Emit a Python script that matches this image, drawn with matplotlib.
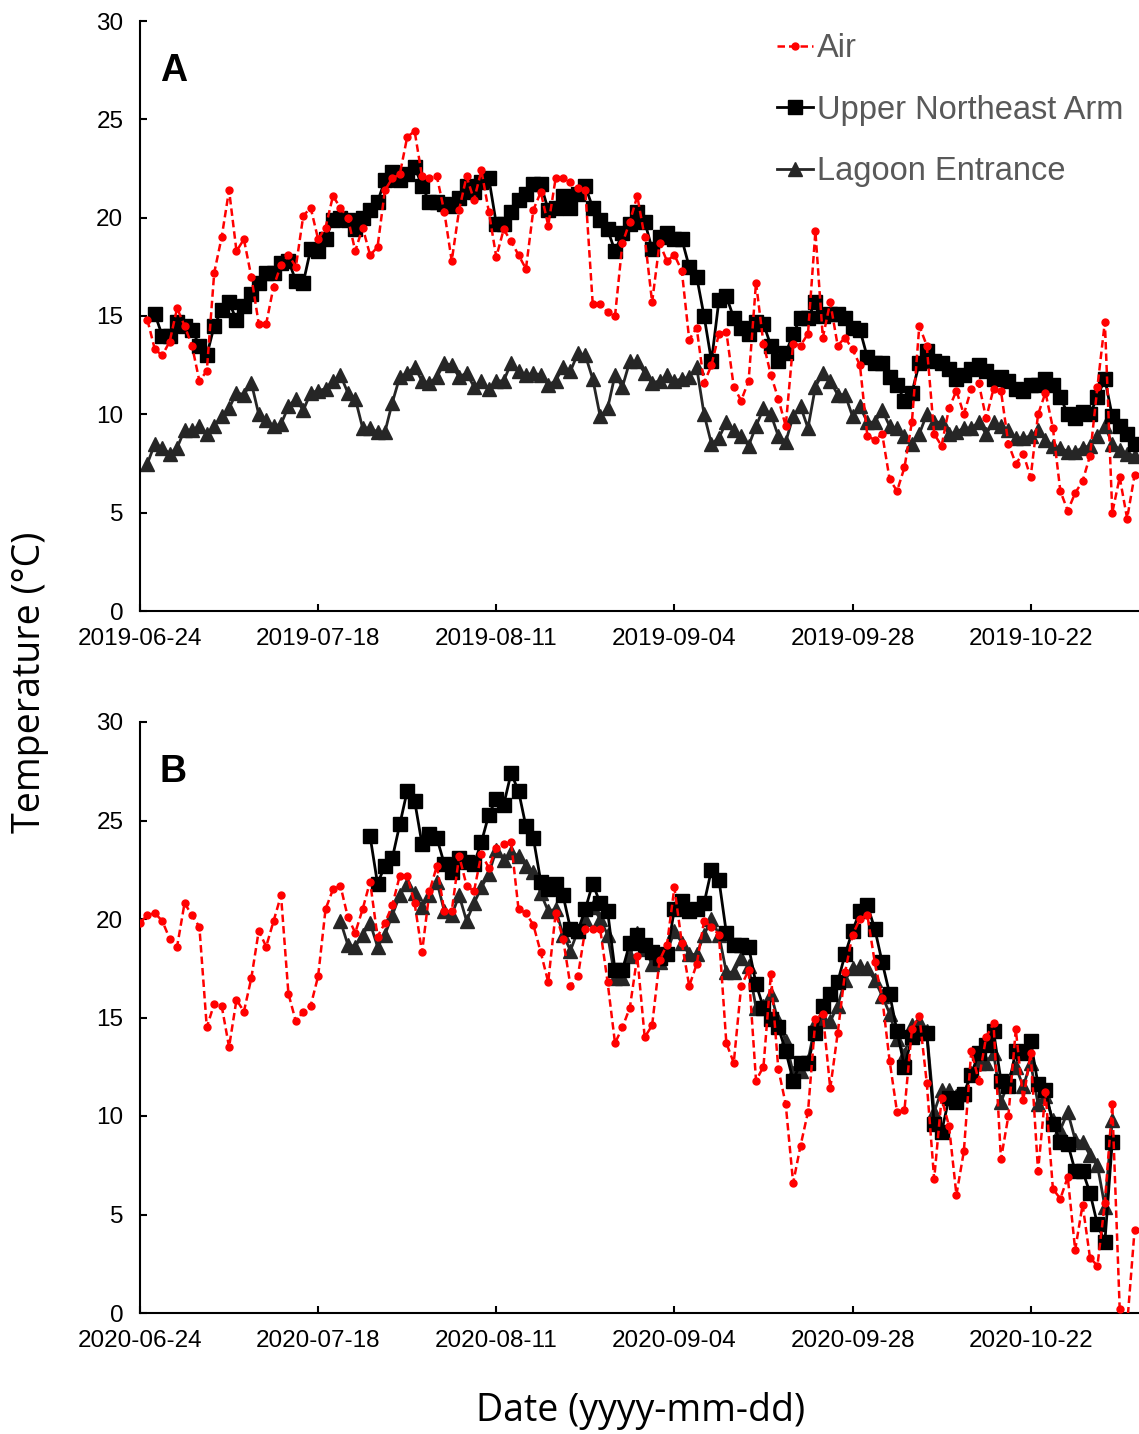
import matplotlib
matplotlib.use('Agg')
import matplotlib.pyplot as plt
import matplotlib.dates as mdates
import pandas as pd

# --- data (daily means) ---
start_a = pd.Timestamp('2019-06-24')
start_b = pd.Timestamp('2020-06-24')

air_a = [14.8, 13.3, 13.0, 13.7, 15.4, 14.5, 13.5, 11.7, 12.2, 17.2,
         19.0, 21.4, 18.3, 18.9, 17.0, 14.6, 14.6, 16.5, 17.6, 18.1,
         17.5, 20.1, 20.5, 18.9, 19.5, 21.1, 20.5, 20.0, 18.3, 19.5,
         18.1, 18.5, 21.4, 22.0, 22.2, 24.1, 24.4, 22.1, 22.0, 22.1,
         20.3, 17.8, 20.4, 22.1, 20.9, 22.4, 20.3, 18.0, 19.4, 18.8,
         18.1, 17.4, 20.4, 21.3, 19.6, 22.0, 22.0, 21.8, 21.5, 21.4,
         15.6, 15.6, 15.2, 15.0, 18.7, 19.8, 21.1, 19.0, 15.7, 18.7,
         17.8, 18.1, 17.3, 13.8, 14.4, 11.6, 12.5, 14.1, 14.2, 11.4,
         10.7, 11.7, 16.7, 13.6, 12.0, 10.8, 9.4, 13.6, 13.5, 14.1,
         19.3, 13.9, 15.7, 13.5, 13.9, 13.3, 12.5, 8.9, 8.7, 9.0,
         6.7, 6.1, 7.3, 9.6, 14.5, 13.5, 9.0, 8.4, 10.3, 11.2,
         10.0, 11.3, 11.6, 9.8, 11.3, 11.2, 8.5, 7.5, 8.0, 6.8,
         10.0, 11.1, 9.3, 6.1, 5.1, 6.0, 6.6, 7.9, 11.4, 14.7,
         5.0, 6.8, 4.7, 6.9]
air_a_first = 1

upper_a = [15.1, 14.0, 14.0, 14.7, 14.5, 14.3, 13.5, 13.0, 14.5,
           15.3, 15.7, 14.8, 15.5, 16.1, 16.7, 17.2, 17.2, 17.7, 17.8,
           16.8, 16.7, 18.4, 18.3, 18.9, 19.9, 20.0, 19.9, 19.4, 20.0,
           20.4, 20.8, 21.9, 22.3, 21.9, 22.2, 22.6, 21.6, 20.8, 20.8,
           20.7, 20.6, 21.0, 21.6, 21.3, 21.8, 22.0, 19.7, 19.7, 20.3,
           20.9, 21.2, 21.7, 21.7, 20.4, 20.5, 21.1, 20.5, 21.2, 21.6,
           20.5, 19.9, 19.4, 18.3, 19.2, 19.7, 20.3, 19.8, 18.4, 19.0,
           19.2, 18.9, 18.9, 17.5, 17.0, 15.0, 12.7, 15.8, 16.0, 14.9,
           14.4, 14.1, 14.7, 14.6, 13.5, 12.7, 13.1, 14.1, 14.9, 14.9,
           15.7, 15.0, 15.1, 15.1, 14.9, 14.4, 14.3, 12.9, 12.6, 12.6,
           11.9, 11.5, 10.7, 11.1, 12.6, 13.2, 12.7, 12.6, 12.3, 11.8,
           12.0, 12.3, 12.5, 12.2, 11.8, 11.9, 11.7, 11.3, 11.2, 11.5,
           11.5, 11.8, 11.5, 10.9, 10.0, 9.8, 10.1, 10.0, 10.9, 11.8,
           9.9, 9.4, 9.0, 8.5]
upper_a_first = 2

lagoon_a = [7.5, 8.5, 8.3, 8.0, 8.3, 9.2, 9.2, 9.4, 9.0, 9.4,
            9.9, 10.3, 11.1, 11.0, 11.6, 10.0, 9.7, 9.4, 9.5, 10.4,
            10.8, 10.2, 11.1, 11.2, 11.3, 11.7, 12.0, 11.1, 10.8, 9.3,
            9.3, 9.1, 9.1, 10.6, 11.9, 12.1, 12.4, 11.7, 11.6, 11.9,
            12.6, 12.5, 11.9, 12.1, 11.4, 11.7, 11.3, 11.7, 11.7, 12.6,
            12.2, 12.0, 12.1, 12.0, 11.5, 11.7, 12.4, 12.2, 13.1, 13.0,
            11.8, 9.9, 10.3, 12.0, 11.4, 12.7, 12.7, 12.1, 11.6, 11.7,
            12.0, 11.7, 11.8, 11.9, 12.4, 10.0, 8.5, 8.8, 9.6, 9.2,
            8.9, 8.4, 9.4, 10.3, 10.0, 8.9, 8.6, 9.9, 10.4, 9.3,
            11.4, 12.1, 11.7, 11.0, 11.0, 9.9, 10.4, 9.6, 9.6, 10.2,
            9.4, 9.3, 8.9, 8.5, 9.0, 10.0, 9.6, 9.6, 9.0, 9.1,
            9.3, 9.3, 9.6, 9.0, 9.6, 9.4, 9.2, 8.8, 8.8, 8.9,
            9.2, 8.7, 8.4, 8.3, 8.1, 8.1, 8.3, 8.4, 8.9, 9.4,
            8.5, 8.2, 8.0, 7.9]
lagoon_a_first = 1

air_b = [19.8, 20.2, 20.3, 19.9, 19.0, 18.6, 20.8, 20.2, 19.6, 14.5,
         15.7, 15.6, 13.5, 15.9, 15.3, 17.0, 19.4, 18.6, 19.9, 21.2,
         16.2, 14.8, 15.3, 15.6, 17.1, 20.5, 21.5, 21.7, 20.1, 19.3,
         20.5, 21.9, 19.1, 19.8, 20.7, 22.2, 22.2, 20.8, 18.3, 21.4,
         22.7, 20.4, 20.4, 23.2, 21.7, 21.4, 23.3, 22.6, 23.6, 23.8,
         23.9, 20.5, 20.3, 19.7, 18.3, 16.8, 20.3, 19.0, 16.6, 17.1,
         19.5, 19.5, 19.5, 16.8, 13.7, 14.5, 15.5, 18.1, 14.0, 14.6,
         17.9, 18.7, 21.6, 18.8, 16.6, 17.7, 19.9, 19.6, 19.2, 13.7,
         12.7, 16.6, 17.4, 11.8, 12.5, 17.2, 12.4, 10.6, 6.6, 8.5,
         10.2, 14.9, 15.2, 11.4, 14.2, 17.3, 19.2, 20.0, 20.2, 17.8,
         16.0, 12.8, 10.2, 10.3, 14.4, 15.1, 11.7, 6.8, 10.9, 9.5,
         6.0, 8.2, 13.3, 11.8, 14.0, 14.7, 7.8, 10.0, 14.4, 10.8,
         13.2, 7.2, 11.2, 6.3, 5.8, 6.9, 3.2, 5.5, 2.8, 2.4,
         5.6, 10.6, 0.2, -0.6, 4.2]
air_b_first = 0

upper_b = [24.2, 21.8, 22.7, 23.1, 24.8, 26.5, 26.0, 23.8, 24.3, 24.1,
           22.8, 22.4, 23.1, 22.9, 22.8, 23.9, 25.3, 26.1, 25.8, 27.4,
           26.5, 24.7, 24.1, 21.9, 21.5, 21.8, 21.2, 19.5, 19.4, 20.5,
           21.8, 20.8, 20.4, 17.4, 17.4, 18.8, 19.2, 18.7, 18.3, 18.0,
           18.2, 20.5, 20.9, 20.4, 20.5, 20.8, 22.5, 22.0, 19.3, 18.7,
           18.7, 18.6, 16.7, 15.5, 14.9, 14.5, 13.3, 11.8, 12.7, 12.7,
           14.2, 15.6, 16.2, 16.8, 18.2, 19.4, 20.4, 20.7, 19.5, 17.8,
           16.2, 14.3, 12.5, 14.0, 14.2, 14.2, 9.6, 9.2, 10.9, 10.7,
           11.1, 12.1, 13.2, 13.6, 14.3, 11.8, 11.5, 13.3, 13.2, 13.8,
           11.6, 11.3, 9.6, 8.7, 8.6, 7.2, 7.2, 6.1, 4.5, 3.6,
           8.7]
upper_b_first = 31

lagoon_b = [19.9, 18.7, 18.6, 19.2, 19.8, 18.6, 19.2, 20.2, 21.2, 21.8,
            21.3, 20.6, 21.2, 21.9, 20.4, 20.2, 21.2, 19.9, 20.8, 21.6,
            22.3, 23.5, 23.0, 23.4, 23.2, 22.7, 22.4, 21.3, 20.4, 20.5,
            19.2, 18.4, 19.4, 20.0, 20.6, 20.0, 19.2, 17.0, 17.0, 18.1,
            19.3, 18.5, 17.7, 17.8, 18.3, 19.4, 18.8, 18.2, 18.2, 19.2,
            20.0, 19.2, 17.3, 17.3, 18.0, 17.6, 15.5, 15.6, 16.2, 14.8,
            13.8, 12.2, 12.3, 12.8, 14.7, 14.9, 14.8, 15.6, 16.9, 17.5,
            17.6, 17.5, 16.9, 16.1, 15.2, 13.9, 13.1, 14.6, 14.8, 14.3,
            10.2, 11.3, 11.3, 11.0, 11.1, 12.2, 12.7, 12.7, 13.2, 10.7,
            11.7, 12.5, 11.5, 12.7, 10.6, 11.0, 9.8, 9.3, 10.2, 8.8,
            8.7, 8.0, 7.5, 5.4, 9.8]
lagoon_b_first = 27


def days(start, first, values):
    return pd.date_range(start + pd.Timedelta(days=first), periods=len(values), freq='D')


fig = plt.figure(figsize=(11.39, 14.34), dpi=100)
fig.set_facecolor('white')

tick_font = 'Liberation Sans'
grey_txt = '#595959'


def panel(rect, start, air, air0, upper, upper0, lagoon, lagoon0, letter):
    ax = fig.add_axes(rect)
    ax.plot(days(start, lagoon0, lagoon), lagoon, color='#262626', lw=2,
            marker='^', ms=10.5, mfc='#262626', mec='#262626',
            label='Lagoon Entrance', zorder=2)
    ax.plot(days(start, upper0, upper), upper, color='black', lw=2,
            marker='s', ms=10.5, mfc='black', mec='black',
            label='Upper Northeast Arm', zorder=3)
    ax.plot(days(start, air0, air), air, color='#ff0000', lw=1.8,
            ls=(0, (3, 1.6)), marker='o', ms=5, mec='#ff0000', mfc='#ff0000',
            label='Air', zorder=4)

    ax.set_xlim(start, start + pd.Timedelta(days=134.6))
    ax.set_ylim(0, 30)
    ax.set_yticks(range(0, 31, 5))
    ticks = [start + pd.Timedelta(days=24 * i) for i in range(6)]
    ax.set_xticks(ticks)
    ax.xaxis.set_major_formatter(mdates.DateFormatter('%Y-%m-%d'))

    for s in ['top', 'right']:
        ax.spines[s].set_visible(False)
    for s in ['left', 'bottom']:
        ax.spines[s].set_linewidth(1.5)
    ax.tick_params(direction='in', length=5, width=1.5, labelsize=17.5, pad=12)
    for lab in ax.get_xticklabels() + ax.get_yticklabels():
        lab.set_family(tick_font)

    ax.text(0.02, 0.915, letter, transform=ax.transAxes, fontsize=27,
            fontweight='bold', family=tick_font, va='center', ha='left')
    return ax


ax_a = panel([140 / 1139, 1 - 611 / 1434, 999 / 1139, 590 / 1434], start_a,
             air_a, air_a_first, upper_a, upper_a_first, lagoon_a, lagoon_a_first, 'A')
ax_b = panel([140 / 1139, 1 - 1313 / 1434, 999 / 1139, 591 / 1434], start_b,
             air_b, air_b_first, upper_b, upper_b_first, lagoon_b, lagoon_b_first, 'B')

h, l = ax_a.get_legend_handles_labels()
leg = fig.legend(h[::-1], l[::-1], loc='upper left',
                 bbox_to_anchor=(777 / 1139, 1 - 33 / 1434),
                 frameon=False, handlelength=1.1, handletextpad=0.12,
                 labelspacing=0.94, borderpad=0, borderaxespad=0,
                 prop={'family': tick_font, 'size': 23.5})
for t in leg.get_texts():
    t.set_color(grey_txt)

fig.text(30 / 1139, 1 - 682 / 1434, 'Temperature (°C)', rotation=90,
         ha='center', va='center', fontsize=27, family='Open Sans')
fig.text(641 / 1139, 1 - 1411 / 1434, 'Date (yyyy-mm-dd)',
         ha='center', va='center', fontsize=27, family='Open Sans')

plt.savefig('out.png', dpi=100)
